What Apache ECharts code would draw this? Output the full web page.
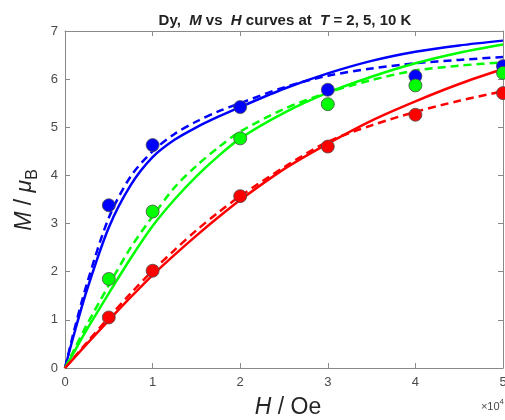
<!DOCTYPE html>
<html>
<head>
<meta charset="utf-8">
<script src="https://cdn.jsdelivr.net/npm/echarts@6/dist/echarts.min.js"></script>
<style>
html,body{margin:0;padding:0;background:#fff;overflow:hidden;}
#c{width:505px;height:420px;}
</style>
</head>
<body>
<div id="c"></div>
<script>
// Field H in units of 1e4 Oe (fit curves)
const curveH = [0, 0.1, 0.25, 0.5, 0.75, 1, 1.25, 1.5, 1.75, 2, 2.5, 3, 3.5, 4, 4.5, 5];
const blueSolid  = [0, 0.68, 1.62, 2.92, 3.80, 4.38, 4.74, 5.00, 5.22, 5.42, 5.80, 6.12, 6.38, 6.57, 6.70, 6.80];
const blueDashed = [0, 0.75, 1.75, 3.12, 3.98, 4.50, 4.86, 5.12, 5.33, 5.50, 5.83, 6.07, 6.22, 6.33, 6.40, 6.46];
const greenSolid = [0, 0.32, 0.80, 1.55, 2.28, 2.95, 3.50, 3.98, 4.40, 4.77, 5.30, 5.72, 6.05, 6.33, 6.55, 6.72];
const greenDashed= [0, 0.36, 0.90, 1.72, 2.50, 3.15, 3.75, 4.20, 4.58, 4.91, 5.38, 5.72, 5.98, 6.18, 6.28, 6.35];
const redSolid   = [0, 0.20, 0.50, 0.99, 1.47, 1.93, 2.35, 2.75, 3.13, 3.49, 4.13, 4.66, 5.14, 5.54, 5.90, 6.21];
const redDashed  = [0, 0.21, 0.53, 1.05, 1.55, 2.02, 2.45, 2.86, 3.23, 3.57, 4.17, 4.70, 5.04, 5.32, 5.55, 5.75];
// measured points
const dotH     = [0.5, 1, 2, 3, 4, 5];
const blueDots = [3.38, 4.63, 5.42, 5.78, 6.06, 6.27];
const greenDots= [1.85, 3.25, 4.77, 5.48, 5.87, 6.13];
const redDots  = [1.05, 2.02, 3.57, 4.60, 5.26, 5.71];
const xTicks = [0, 1, 2, 3, 4, 5];
const yTicks = [0, 1, 2, 3, 4, 5, 6, 7];

const SCALE = 10000;
const pair = (xs, ys) => xs.map((x, i) => [x * SCALE, ys[i]]);

const FONT = '"Liberation Sans", Arial, sans-serif';
const axisCol = '#8a8a8a';
const labCol = '#4a4a4a';

function lineSeries(name, ys, color, dashed) {
  return {
    name, type: 'line', data: pair(curveH, ys), showSymbol: false, symbol: 'none',
    smooth: 0.3, clip: true, z: 2,
    lineStyle: { color, width: 2.5, type: dashed ? [8, 5] : 'solid' }
  };
}
function dotSeries(name, ys, color) {
  return {
    name, type: 'scatter', data: pair(dotH, ys), symbol: 'circle', symbolSize: 13, clip: true, z: 5,
    itemStyle: { color, borderColor: '#4d4d4d', borderWidth: 0.8, opacity: 1 }
  };
}

const chart = echarts.init(document.getElementById('c'), null, { renderer: 'canvas' });
const xCommon = {
  type: 'value', min: xTicks[0] * SCALE, max: xTicks[xTicks.length - 1] * SCALE, interval: SCALE,
  splitLine: { show: false },
  axisLine: { show: true, onZero: false, lineStyle: { color: axisCol, width: 1 } },
  axisTick: { show: true, inside: true, length: 5, lineStyle: { color: axisCol } }
};
const yCommon = {
  type: 'value', min: yTicks[0], max: yTicks[yTicks.length - 1], interval: 1,
  splitLine: { show: false },
  axisLine: { show: true, onZero: false, lineStyle: { color: axisCol, width: 1 } },
  axisTick: { show: true, inside: true, length: 5, lineStyle: { color: axisCol } }
};

chart.setOption({
  animation: false,
  backgroundColor: '#fff',
  grid: { left: 65, right: 2, top: 31, bottom: 52, containLabel: false, outerBoundsMode: 'none' },
  xAxis: [
    Object.assign({}, xCommon, { position: 'bottom',
      axisLabel: { show: true, color: labCol, fontFamily: FONT, fontSize: 13, margin: 8,
        formatter: v => String(Math.round(v / SCALE)) } }),
    Object.assign({}, xCommon, { position: 'top', axisLabel: { show: false } })
  ],
  yAxis: [
    Object.assign({}, yCommon, { position: 'left',
      axisLabel: { show: true, color: labCol, fontFamily: FONT, fontSize: 13, margin: 7 } }),
    Object.assign({}, yCommon, { position: 'right', axisLabel: { show: false } })
  ],
  series: [
    lineSeries('blue solid', blueSolid, '#0000ff', false),
    lineSeries('blue dashed', blueDashed, '#0000ff', true),
    lineSeries('green solid', greenSolid, '#00ff00', false),
    lineSeries('green dashed', greenDashed, '#00ff00', true),
    lineSeries('red solid', redSolid, '#ff0000', false),
    lineSeries('red dashed', redDashed, '#ff0000', true),
    dotSeries('T = 2 K', blueDots, '#0000ff'),
    dotSeries('T = 5 K', greenDots, '#00ff00'),
    dotSeries('T = 10 K', redDots, '#ff0000')
  ],
  graphic: [
    { type: 'text', x: 285, y: 21, z: 10,
      style: { text: '{b|Dy,  }{bi|M}{b| vs  }{bi|H}{b| curves at  }{bi|T}{b| = 2, 5, 10 K}',
        align: 'center', verticalAlign: 'middle',
        rich: {
          b: { fontFamily: FONT, fontSize: 15, fontWeight: 'bold', fill: '#222' },
          bi: { fontFamily: FONT, fontSize: 15, fontWeight: 'bold', fontStyle: 'italic', fill: '#222' }
        } } },
    { type: 'text', x: 288, y: 408, z: 10,
      style: { text: '{i|H}{n| / Oe}', align: 'center', verticalAlign: 'middle',
        rich: {
          i: { fontFamily: FONT, fontSize: 23, fontStyle: 'italic', fill: '#262626' },
          n: { fontFamily: FONT, fontSize: 23, fill: '#262626' }
        } } },
    { type: 'text', x: 26, y: 200, rotation: Math.PI / 2, z: 10,
      style: { text: '{i|M}{n| / }{i|μ}{s|B}', align: 'center', verticalAlign: 'middle',
        rich: {
          i: { fontFamily: FONT, fontSize: 23, fontStyle: 'italic', fill: '#262626', lineHeight: 26, verticalAlign: 'top' },
          n: { fontFamily: FONT, fontSize: 23, fill: '#262626', lineHeight: 26, verticalAlign: 'top' },
          s: { fontFamily: FONT, fontSize: 16, fill: '#262626', lineHeight: 18, padding: [12, 0, 0, 0], verticalAlign: 'top' }
        } } },
    { type: 'text', x: 504, y: 405, z: 10,
      style: { text: '{n|×10}{s|4}', align: 'right', verticalAlign: 'middle',
        rich: {
          n: { fontFamily: FONT, fontSize: 11, fill: '#4a4a4a', lineHeight: 14, verticalAlign: 'bottom' },
          s: { fontFamily: FONT, fontSize: 8, fill: '#4a4a4a', lineHeight: 8, padding: [0, 0, 7, 0], verticalAlign: 'top' }
        } } }
  ]
});
</script>
</body>
</html>
